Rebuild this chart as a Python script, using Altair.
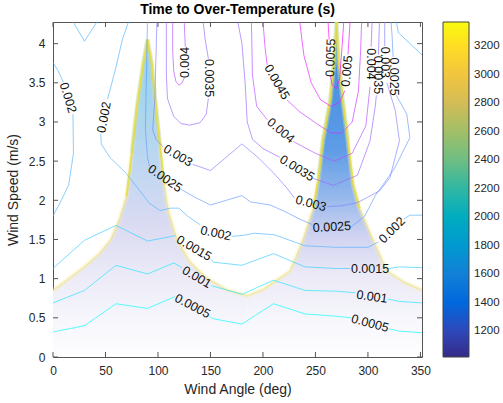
import altair as alt
import pandas as pd

# ---------------- data ----------------
levels = ["0.0005", "0.001", "0.0015", "0.002", "0.0025", "0.003",
          "0.0035", "0.004", "0.0045", "0.005", "0.0055"]
level_colors = ["#00ffff", "#1ae6ff", "#33ccff", "#4db3ff", "#6699ff", "#8080ff",
                "#9966ff", "#b34dff", "#cc33ff", "#e61aff", "#ff00ff"]

c0005 = [
    [(0, 0.32), (30, 0.40), (60, 0.68), (90, 0.62), (116, 0.77)],
    [(149, 0.52), (152, 0.49), (180, 0.42), (210, 0.68), (240, 0.55), (270, 0.52), (284, 0.50)],
    [(320, 0.36), (330, 0.33), (352, 0.31)],
]
c001 = [
    [(0, 0.69), (30, 0.85), (60, 1.17), (90, 1.06), (115, 1.20), (123, 1.14)],
    [(151, 0.91), (180, 0.80), (210, 0.98), (240, 0.85), (270, 0.84), (288, 0.82)],
    [(319, 0.74), (330, 0.71), (352, 0.69)],
]
c0015 = [
    [(0, 1.13), (30, 1.49), (60, 1.68), (90, 1.48), (117, 1.55)],
    [(150, 1.25), (153, 1.21), (180, 1.17), (210, 1.32), (240, 1.15), (270, 1.13), (283, 1.13)],
    [(320, 1.13), (330, 1.15), (352, 1.14)],
]
c002 = [
    [(0, 3.76), (5, 3.65), (9.8, 3.51)],
    [(19, 3.10), (19.5, 2.60), (15, 2.20), (8, 2.00), (0, 1.80)],
    [(19, 4.28), (30, 4.03), (42, 4.28)],
    [(72, 4.28), (66, 4.05), (60, 3.70), (52, 3.29)],
    [(45.5, 2.85), (46, 2.72), (54, 2.55), (70, 2.34), (92, 1.96), (102, 1.87), (112, 1.90),
     (120, 1.90), (128, 1.80), (140, 1.69)],
    [(170, 1.54), (180, 1.55), (192, 1.58), (211, 1.56), (240, 1.42), (270, 1.40), (300, 1.40), (310, 1.47)],
    [(334, 1.76), (340, 1.81), (352, 1.81)],
    [(327, 4.28), (329, 4.14), (352, 3.85)],
]
c0025 = [
    [(90, 4.28), (89, 3.60), (88, 2.90), (90, 2.55), (92, 2.43)],
    [(122, 2.14), (135, 2.04), (150, 1.94), (165, 2.00), (180, 2.06), (188, 1.98), (207, 1.94),
     (222, 1.85), (235, 1.76), (247, 1.69)],
    [(284, 1.66), (297, 1.80), (307, 2.06), (325, 2.40), (340, 2.80), (337, 3.10), (327, 3.34)],
    [(324, 3.83), (323, 4.10), (322, 4.28)],
]
c003 = [
    [(99, 4.28), (98, 3.80), (97, 3.30), (95, 2.90), (98, 2.78), (105, 2.68)],
    [(133, 2.46), (150, 2.38), (165, 2.55), (180, 2.72), (195, 2.55), (210, 2.35), (222, 2.17), (230, 2.03)],
    [(261, 1.92), (275, 1.93), (290, 1.97), (311, 2.12), (321, 2.29), (330, 2.76), (326, 3.15), (318, 3.50)],
    [(316, 3.97), (316, 4.28)],
]
c0035 = [
    [(108, 4.28), (108, 3.60), (109, 3.30), (115, 3.07), (122, 2.98), (130, 2.96), (140, 2.99),
     (146, 3.10), (148, 3.30)],
    [(148, 3.81), (145, 4.05), (143, 4.28)],
    [(176, 4.28), (180, 4.00), (183, 3.50), (185, 3.00), (190, 2.78), (200, 2.66), (216, 2.55)],
    [(248, 2.28), (267, 2.19), (290, 2.32), (302, 2.76), (307, 3.20), (308, 3.34)],
    [(310, 3.86), (311, 4.28)],
]
c004 = [
    [(114, 4.28), (114, 3.90), (115, 3.65), (117, 3.52), (120, 3.47), (123, 3.50), (125, 3.56)],
    [(126, 3.96), (125, 4.28)],
    [(189, 4.28), (190, 3.60), (194, 3.20), (204, 3.03)],
    [(229, 2.75), (250, 2.60), (268, 2.50), (285, 2.60), (298, 2.95), (302, 3.45)],
    [(303, 3.96), (304, 4.28)],
]
c0045 = [
    [(200, 4.28), (202, 3.95), (204, 3.73)],
    [(223, 3.28), (235, 3.13), (251, 2.98), (265, 2.86), (275, 2.86), (285, 3.00), (291, 3.40),
     (293, 3.90), (294, 4.28)],
]
c005 = [
    [(235, 4.28), (239, 3.85), (246, 3.50), (255, 3.28), (265, 3.20), (273, 3.25), (278, 3.40)],
    [(281, 3.86), (283, 4.28)],
]
c0055 = [
    [(262, 4.28), (263, 4.05)],
    [(264, 3.60), (266, 3.47), (270, 3.43), (273, 3.55), (275, 3.90), (277, 4.28)],
]
contour_sets = [c0005, c001, c0015, c002, c0025, c003, c0035, c004, c0045, c005, c0055]

# contour labels: text, x, y, rotation
label_text = ["0.002", "0.002", "0.004", "0.0035", "0.0045", "0.004", "0.0035", "0.003",
              "0.0025", "0.003", "0.0025", "0.002", "0.002", "0.0015", "0.0015", "0.001",
              "0.001", "0.0005", "0.0005", "0.0055", "0.005", "0.004", "0.0035", "0.003", "0.0025"]
label_x = [14.3, 48.6, 125.7, 148.6, 213.3, 217.0, 232.4, 119.0, 106.7, 245.7, 265.7, 322.9,
           155.2, 134.3, 302.0, 137.0, 303.8, 133.0, 302.0, 264.5, 280.0, 303.0, 309.5, 316.0, 325.0]
label_y = [3.31, 3.06, 3.76, 3.56, 3.51, 2.89, 2.41, 2.57, 2.28, 1.96, 1.66, 1.62,
           1.58, 1.39, 1.12, 1.02, 0.77, 0.65, 0.43, 3.82, 3.65, 3.74, 3.60, 3.76, 3.58]
label_ang = [73, 281, 270, 90, 60, 40, 32, 30, 35, 15, 357, 315,
             12, 30, 0, 30, 8, 28, 15, 272, 275, 90, 90, 90, 90]

# time-to-over-temperature field: upper edge of the coloured region
heat_left_x = [0, 15, 30, 45, 55, 63, 70, 75, 80, 86, 90, 94, 98, 102, 106, 110, 118, 130,
               145, 165, 185]
heat_left_top = [0.85, 1.00, 1.15, 1.33, 1.50, 1.75, 2.05, 2.60, 3.20, 3.75, 4.05, 3.75, 3.20,
                 2.70, 2.20, 1.85, 1.50, 1.22, 1.02, 0.86, 0.78]
heat_right_x = [185, 200, 213, 226, 238, 248, 253, 257, 264, 268, 270, 272, 276, 281, 286,
                292, 305, 318, 335, 352]
heat_right_top = [0.78, 0.86, 0.98, 1.10, 1.49, 1.90, 2.30, 2.76, 3.28, 3.80, 4.28, 3.80,
                  3.28, 2.76, 2.20, 1.90, 1.49, 1.10, 0.95, 0.85]

cbar_ticks = [1200, 1400, 1600, 1800, 2000, 2200, 2400, 2600, 2800, 3000, 3200]
cbar_domain = [1018, 3370]
parula = ["#352a87", "#0f5cdd", "#1481d6", "#06a4ca", "#2eb7a4", "#87bf77",
          "#d1bb59", "#fec832", "#f9fb0e"]

x_ticks = [0, 50, 100, 150, 200, 250, 300, 350]
y_ticks = [0, 0.5, 1, 1.5, 2, 2.5, 3, 3.5, 4]

# ---------------- tables ----------------
rows = []
for lev, pieces in zip(levels, contour_sets):
    for pi, piece in enumerate(pieces):
        for k, (xx, yy) in enumerate(piece):
            rows.append({"x": xx, "y": yy, "level": lev, "pid": f"{lev}_{pi}", "ord": k})
lines_df = pd.DataFrame(rows)
labels_df = pd.DataFrame({"x": label_x, "y": label_y, "lab": label_text, "ang": label_ang})
heat_l = pd.DataFrame({"x": heat_left_x, "y": heat_left_top})
heat_r = pd.DataFrame({"x": heat_right_x, "y": heat_right_top})
rim_df = pd.DataFrame({"x": heat_left_x + heat_right_x[1:], "y": heat_left_top + heat_right_top[1:]})
xt_df = pd.DataFrame({"x": x_ticks})
yt_df = pd.DataFrame({"y": y_ticks})
cb_df = pd.DataFrame({"v": cbar_domain})
cbt_df = pd.DataFrame({"v": cbar_ticks})

FONT = "Liberation Sans"
W, H = 369, 335
YMAX = 4.276
xscale = alt.Scale(domain=[0, 351.5], nice=False, zero=False)
yscale = alt.Scale(domain=[0, YMAX], nice=False, zero=False)
xaxis = alt.Axis(values=x_ticks, title="Wind Angle (deg)", ticks=False, domain=False, grid=False,
                 labelPadding=8, titlePadding=6, format="d", labelFlush=False)
yaxis = alt.Axis(values=y_ticks, title="Wind Speed (m/s)", ticks=False, domain=False, grid=False,
                 labelPadding=8, titlePadding=8, format="~g", labelFlush=False)
X = alt.X("x:Q", scale=xscale, axis=xaxis)
Y = alt.Y("y:Q", scale=yscale, axis=yaxis)

grad_left = alt.Gradient(gradient="linear", x1=0, x2=0, y1=1, y2=0, stops=[
    alt.GradientStop(offset=0.0, color="#fefeff"),
    alt.GradientStop(offset=0.12, color="#f6f6fc"),
    alt.GradientStop(offset=0.25, color="#ecebf7"),
    alt.GradientStop(offset=0.42, color="#dadaf2"),
    alt.GradientStop(offset=0.58, color="#c2d7f1"),
    alt.GradientStop(offset=0.78, color="#a8d6ee"),
    alt.GradientStop(offset=1.0, color="#92cfea")])
grad_right = alt.Gradient(gradient="linear", x1=0, x2=0, y1=1, y2=0, stops=[
    alt.GradientStop(offset=0.0, color="#fefeff"),
    alt.GradientStop(offset=0.12, color="#f6f6fc"),
    alt.GradientStop(offset=0.25, color="#ebe9f6"),
    alt.GradientStop(offset=0.36, color="#d0d3f1"),
    alt.GradientStop(offset=0.48, color="#95b8ec"),
    alt.GradientStop(offset=0.62, color="#5e9ce6"),
    alt.GradientStop(offset=1.0, color="#3d88df")])

area_l = alt.Chart(heat_l).mark_area(color=grad_left, clip=True).encode(x=X, y=Y)
area_r = alt.Chart(heat_r).mark_area(color=grad_right, clip=True).encode(x=X, y=Y)
rim_wide = alt.Chart(rim_df).mark_line(color="#f6efb8", strokeWidth=5, opacity=0.35, clip=True).encode(x=X, y=Y)
rim_thin = alt.Chart(rim_df).mark_line(color="#eee07a", strokeWidth=1.6, opacity=0.55, clip=True).encode(x=X, y=Y)
# stronger yellow / green edge along the upper parts of the two spikes
rim_spike = alt.Chart(rim_df).transform_filter("datum.y > 1.85").transform_calculate(
    grp="datum.x < 180 ? 'a' : 'b'"
).mark_line(color="#e4dc3c", strokeWidth=2.2, opacity=0.75, clip=True).encode(x=X, y=Y, detail="grp:N")
rim_green = alt.Chart(rim_df).transform_filter("datum.y > 2.2").transform_calculate(
    grp="datum.x < 180 ? 'a' : 'b'"
).mark_line(color="#7cc8a8", strokeWidth=4, opacity=0.25, clip=True).encode(x=X, y=Y, detail="grp:N")

lines = alt.Chart(lines_df).mark_line(strokeWidth=1, opacity=0.65, clip=True).encode(
    x=X, y=Y,
    color=alt.Color("level:N", scale=alt.Scale(domain=levels, range=level_colors), legend=None),
    detail="pid:N", order="ord:Q")

texts = alt.Chart(labels_df).mark_text(font=FONT, fontSize=12.5, color="#111111").encode(
    x=X, y=Y, text="lab:N", angle=alt.Angle("ang:Q", scale=None))

tick_bot = alt.Chart(xt_df).mark_rule(color="#555555").encode(x=X, y=alt.value(H), y2=alt.value(H - 5))
tick_top = alt.Chart(xt_df).mark_rule(color="#555555").encode(x=X, y=alt.value(0), y2=alt.value(5))
tick_lft = alt.Chart(yt_df).mark_rule(color="#555555").encode(y=Y, x=alt.value(0), x2=alt.value(5))
tick_rgt = alt.Chart(yt_df).mark_rule(color="#555555").encode(y=Y, x=alt.value(W), x2=alt.value(W - 5))

# colorbar ticks: tick values mapped through the colorbar's range onto the plot height
cb_ticks = alt.Chart(cbt_df).transform_calculate(
    y=f"(datum.v - {cbar_domain[0]}) / ({cbar_domain[1]} - {cbar_domain[0]}) * {YMAX}"
).mark_rule(color="#444444").encode(y=Y, x=alt.value(413), x2=alt.value(416))

cbar = alt.Chart(cb_df).mark_point(filled=True, size=0, opacity=1).encode(
    fill=alt.Fill("v:Q", scale=alt.Scale(domain=cbar_domain, range=parula, nice=False, zero=False),
                  legend=alt.Legend(orient="none", legendX=390, legendY=0, direction="vertical",
                                    gradientLength=H, gradientThickness=26, values=cbar_ticks,
                                    title=None, labelFont=FONT, labelFontSize=11.5, format="d",
                                    labelColor="#262626", gradientStrokeColor="#444444",
                                    gradientStrokeWidth=1, labelOffset=5, labelOverlap=False,
                                    gradientOpacity=1)))

chart = alt.layer(area_l, area_r, rim_wide, rim_green, rim_thin, rim_spike, lines, texts,
                  tick_bot, tick_top, tick_lft, tick_rgt, cbar, cb_ticks).properties(
    width=W, height=H,
    padding={"left": 53, "top": 22, "right": 81, "bottom": 46},
    autosize=alt.AutoSizeParams(type="none"),
    title=alt.TitleParams("Time to Over-Temperature (s)", font=FONT, fontSize=14,
                          fontWeight="bold", color="#000000", offset=5),
    background="white",
).configure_view(stroke="#555555", strokeWidth=1).configure_axis(
    labelFont=FONT, labelFontSize=12, labelColor="#262626",
    titleFont=FONT, titleFontSize=14, titleFontWeight="normal", titleColor="#262626")

chart.save("out.html", embed_options={"renderer": "svg", "actions": False})
